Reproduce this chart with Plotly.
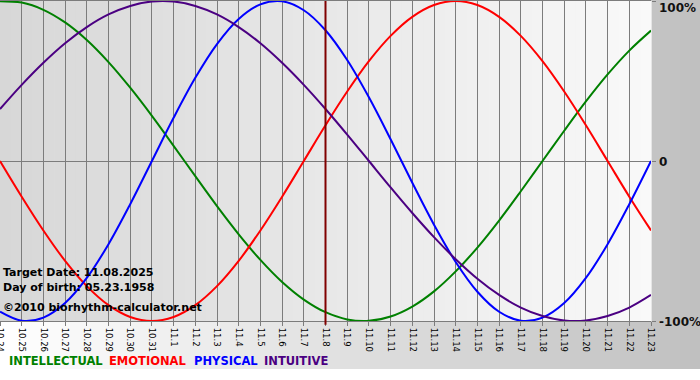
import plotly.graph_objects as go

# ---- data (values in %, one per day) ----
dates = ["10.24", "10.25", "10.26", "10.27", "10.28", "10.29", "10.30", "10.31",
         "11.1", "11.2", "11.3", "11.4", "11.5", "11.6", "11.7", "11.8", "11.9",
         "11.10", "11.11", "11.12", "11.13", "11.14", "11.15", "11.16", "11.17",
         "11.18", "11.19", "11.20", "11.21", "11.22", "11.23"]

intellectual = [99.9, 99.0, 94.5, 86.6, 75.6, 61.8, 45.8, 28.2, 9.5, -9.5, -28.2,
                -45.8, -61.8, -75.6, -86.6, -94.5, -99.0, -99.9, -97.2, -91.0,
                -81.5, -69.0, -54.1, -37.2, -18.9, 0.0, 18.9, 37.2, 54.1, 69.0, 81.5]

emotional = [0.0, -22.3, -43.4, -62.4, -78.2, -90.1, -97.5, -100.0, -97.5, -90.1,
             -78.2, -62.4, -43.4, -22.3, 0.0, 22.3, 43.4, 62.4, 78.2, 90.1, 97.5,
             100.0, 97.5, 90.1, 78.2, 62.4, 43.4, 22.3, 0.0, -22.3, -43.4]

physical = [-94.2, -99.8, -97.9, -88.8, -73.1, -52.0, -27.0, 0.0, 27.0, 52.0, 73.1,
            88.8, 97.9, 99.8, 94.2, 81.7, 63.1, 39.8, 13.6, -13.6, -39.8, -63.1,
            -81.7, -94.2, -99.8, -97.9, -88.8, -73.1, -52.0, -27.0, 0.0]

intuitive = [32.5, 47.6, 61.4, 73.6, 83.7, 91.6, 96.9, 99.7, 99.7, 96.9, 91.6, 83.7,
             73.6, 61.4, 47.6, 32.5, 16.5, 0.0, -16.5, -32.5, -47.6, -61.4, -73.6,
             -83.7, -91.6, -96.9, -99.7, -99.7, -96.9, -91.6, -83.7]

series_names = ["INTELLECTUAL", "EMOTIONAL", "PHYSICAL", "INTUITIVE"]
series_colors = ["#008000", "#ff0000", "#0000ff", "#4b0082"]
target_index = dates.index("11.8")
y_ticks = [100, 0, -100]
y_tick_text = ["100%", "0", "-100%"]

W, H = 700, 380
ML, MR, MT, MB = 0, 49, 1, 59
plot_w = W - ML - MR
plot_h = H - MT - MB

x_idx = list(range(len(dates)))

fig = go.Figure()
for vals, name, col in zip([intellectual, emotional, physical, intuitive],
                           series_names, series_colors):
    fig.add_trace(go.Scatter(x=x_idx, y=vals, mode="lines", name=name,
                             line=dict(color=col, width=2, shape="spline", smoothing=1),
                             hoverinfo="skip"))

shapes = []
# outer background gradient (white -> gray, left to right), ends above bottom white strip
n_outer = 70
y_bottom_paper = -(369 - (MT + plot_h)) / plot_h
y_top_paper = (MT + plot_h) / plot_h
for i in range(n_outer):
    f = (i + 0.5) / n_outer
    g = int(round(255 - (255 - 192) * f))
    shapes.append(dict(type="rect", xref="paper", yref="paper",
                       x0=(-ML + i * W / n_outer) / plot_w,
                       x1=(-ML + (i + 1) * W / n_outer) / plot_w + 0.001,
                       y0=y_bottom_paper, y1=y_top_paper + 0.01,
                       fillcolor=f"rgb({g},{g},{g})", line=dict(width=0), layer="below"))
# plot area gradient (darker left -> lighter right)
n_in = 60
for i in range(n_in):
    f = (i + 0.5) / n_in
    g = int(round(215 + (249 - 215) * f))
    shapes.append(dict(type="rect", xref="paper", yref="paper",
                       x0=i / n_in, x1=(i + 1) / n_in + 0.001, y0=0, y1=1,
                       fillcolor=f"rgb({g},{g},{g})", line=dict(width=0), layer="below"))
# target date marker
shapes.append(dict(type="line", xref="x", yref="paper", x0=target_index, x1=target_index,
                   y0=-0.012, y1=1, line=dict(color="#800000", width=2), layer="above"))

annotations = []
bold = dict(family="DejaVu Sans", size=11, color="#000000", weight="bold")
for txt, ypix in [("Target Date: 11.08.2025", 272), ("Day of birth: 05.23.1958", 287),
                  ("©2010 biorhythm-calculator.net", 307)]:
    annotations.append(dict(text=txt, xref="paper", yref="paper", x=1 / plot_w,
                            y=(MT + plot_h - ypix) / plot_h, xanchor="left",
                            yanchor="middle", showarrow=False, font=bold))
for val, txt in zip(y_ticks, y_tick_text):
    ypix = {100: 8, 0: 162, -100: 322}[val]
    annotations.append(dict(text=txt, xref="paper", yref="paper", x=657 / plot_w,
                            y=(MT + plot_h - ypix) / plot_h, xanchor="left",
                            yanchor="middle", showarrow=False,
                            font=dict(family="DejaVu Sans", size=12, color="#111111",
                                      weight="bold")))
for name, col, xpix in zip(series_names, series_colors, [7, 107, 192, 262]):
    annotations.append(dict(text=name, xref="paper", yref="paper", x=xpix / plot_w,
                            y=(MT + plot_h - 361) / plot_h, xanchor="left",
                            yanchor="middle", showarrow=False,
                            font=dict(family="DejaVu Sans", size=11.5, color=col,
                                      weight="bold")))

fig.update_layout(
    width=W, height=H,
    margin=dict(l=ML, r=MR, t=MT, b=MB, pad=0),
    paper_bgcolor="#ffffff",
    plot_bgcolor="rgba(0,0,0,0)",
    showlegend=False,
    shapes=shapes,
    annotations=annotations,
    xaxis=dict(range=[0, len(dates) - 1], tickmode="array", tickvals=x_idx,
               ticktext=dates, tickangle=90, showgrid=True, gridcolor="#7c7c7c",
               gridwidth=1, ticks="outside", ticklen=4, tickcolor="#7c7c7c",
               showline=True, linecolor="#7c7c7c", linewidth=1, mirror=True,
               zeroline=False, automargin=False, ticklabeloverflow="allow",
               tickfont=dict(family="DejaVu Sans", size=8.5, color="#000000"),
               fixedrange=True),
    yaxis=dict(range=[-100, 100], tickmode="array", tickvals=y_ticks,
               showticklabels=False, side="right", ticks="outside", ticklen=4,
               tickcolor="#7c7c7c", showgrid=False, zeroline=True,
               zerolinecolor="#7c7c7c", zerolinewidth=1, showline=False,
               automargin=False, fixedrange=True),
)

fig.write_html(
    "out.html",
    config={"displayModeBar": False},
    post_script="document.body.style.margin='0';document.body.style.padding='0';"
                "document.body.style.overflow='hidden';",
)
